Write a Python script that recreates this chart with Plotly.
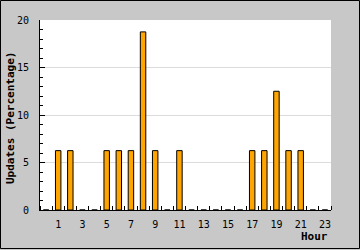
import plotly.graph_objects as go

hours = list(range(24))
updates = [0, 6.25, 6.25, 0, 0, 6.25, 6.25, 6.25, 18.75, 6.25, 0, 6.25,
           0, 0, 0, 0, 0, 6.25, 6.25, 12.5, 6.25, 6.25, 0, 0]
xtick_vals = [1, 3, 5, 7, 9, 11, 13, 15, 17, 19, 21, 23]
xtick_text = [str(v) for v in xtick_vals]
ytick_vals = [0, 5, 10, 15, 20]

W, H = 360, 250
L, R, T, B = 40, 29, 20, 40
pw, ph = W - L - R, H - T - B

def px(x):
    return (x - L) / pw

def py(y):
    return (H - B - y) / ph

mono = "DejaVu Sans Mono"

fig = go.Figure(go.Bar(
    x=hours, y=updates, width=0.45,
    marker=dict(color="#FFA500", line=dict(color="black", width=1)),
))

fig.update_layout(
    width=W, height=H,
    margin=dict(l=L, r=R, t=T, b=B, pad=0),
    paper_bgcolor="#C8C8C8", plot_bgcolor="white",
    showlegend=False,
    font=dict(family=mono, size=10, color="black"),
    xaxis=dict(
        range=[-0.5, 23.5], tickvals=xtick_vals, ticktext=xtick_text,
        ticks="", showgrid=False, zeroline=False,
        showline=True, linecolor="black", linewidth=1,
        ticklabelstandoff=5,
        minor=dict(tick0=0.5, dtick=1, ticks="inside", ticklen=4,
                   tickcolor="black", showgrid=False),
    ),
    yaxis=dict(
        range=[0, 20], tickvals=ytick_vals, ticks="inside", ticklen=5,
        tickcolor="black", showgrid=True, gridcolor="#DCDCDC", zeroline=False,
        showline=True, linecolor="black", linewidth=1,
        ticklabelstandoff=8,
        minor=dict(dtick=1, ticks="inside", ticklen=3, tickcolor="black",
                   showgrid=False),
    ),
    annotations=[
        dict(text="<b>Updates (Percentage)</b>", textangle=-90,
             xref="paper", yref="paper", x=px(10), y=py(118),
             xanchor="center", yanchor="middle", showarrow=False,
             font=dict(family=mono, size=11, color="black")),
        dict(text="<b>Hour</b>",
             xref="paper", yref="paper", x=px(330), y=py(236),
             xanchor="right", yanchor="middle", showarrow=False,
             font=dict(family=mono, size=11, color="black")),
    ],
    shapes=[
        dict(type="rect", xref="paper", yref="paper",
             x0=px(0.5), x1=px(359.5), y0=py(0.5), y1=py(248.5),
             line=dict(color="black", width=1), fillcolor="rgba(0,0,0,0)",
             layer="above"),
    ],
)

fig.write_html("out.html")
